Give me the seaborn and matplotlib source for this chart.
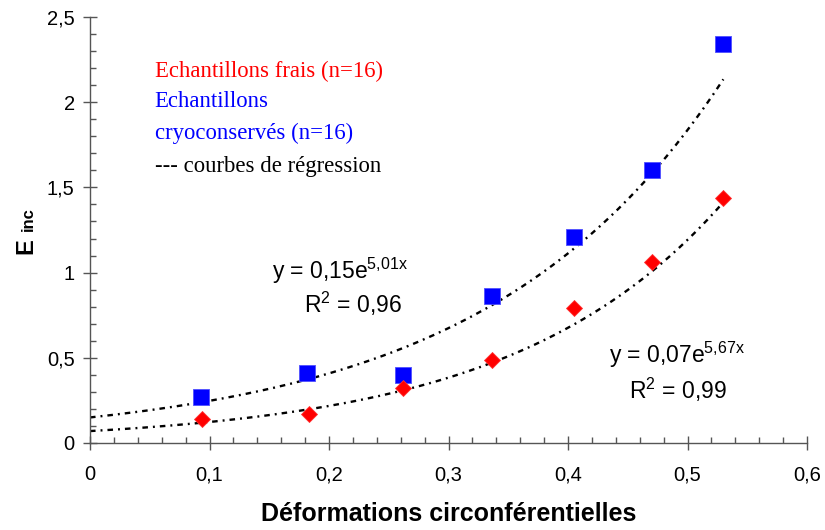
import numpy as np
import pandas as pd
import matplotlib
matplotlib.use("Agg")
import matplotlib.pyplot as plt
import seaborn as sns
from matplotlib.ticker import MultipleLocator, FixedLocator, FixedFormatter

# ---- data ----
x_cryo = [0.093, 0.182, 0.262, 0.336, 0.405, 0.470, 0.530]
y_cryo = [0.27, 0.41, 0.40, 0.86, 1.21, 1.60, 2.34]
x_frais = [0.094, 0.183, 0.262, 0.336, 0.405, 0.470, 0.530]
y_frais = [0.14, 0.17, 0.32, 0.49, 0.79, 1.06, 1.44]

# exponential regression coefficients (y = a * exp(b x)) as printed on the chart
fit_cryo = (0.15, 5.01)
fit_frais = (0.07, 5.67)
fit_xmax = 0.53

xticks = [0, 0.1, 0.2, 0.3, 0.4, 0.5, 0.6]
xtick_labels = ["0", "0,1", "0,2", "0,3", "0,4", "0,5", "0,6"]
yticks = [0, 0.5, 1, 1.5, 2, 2.5]
ytick_labels = ["0", "0,5", "1", "1,5", "2", "2,5"]

x_label = "Déformations circonférentielles"
y_label_main = "E"
y_label_sub = "inc"
legend_lines = [("Echantillons frais (n=16)", "#ff0000"),
                ("Echantillons", "#0000ff"),
                ("cryoconservés (n=16)", "#0000ff"),
                ("--- courbes de régression", "#000000")]
eq_cryo = [r"y = 0,15e$^{5{,}01x}$", r"R$^{2}$ = 0,96"]
eq_frais = [r"y = 0,07e$^{5{,}67x}$", r"R$^{2}$ = 0,99"]

# ---- style ----
sns.set_style("ticks")
plt.rcParams["font.family"] = ["Liberation Sans", "DejaVu Sans"]
plt.rcParams["mathtext.fontset"] = "custom"
plt.rcParams["mathtext.rm"] = "Liberation Sans"
plt.rcParams["mathtext.it"] = "Liberation Sans"
plt.rcParams["mathtext.bf"] = "Liberation Sans:bold"
plt.rcParams["text.color"] = "black"
plt.rcParams["lines.scale_dashes"] = False

fig = plt.figure(figsize=(8.25, 5.30), dpi=100)
ax = fig.add_axes([90 / 825, 1 - 443 / 530, (807 - 90) / 825, (443 - 17) / 530])

# regression curves
xc = np.linspace(0, fit_xmax, 200)
df_fit = pd.DataFrame({
    "x": np.concatenate([xc, xc]),
    "y": np.concatenate([fit_cryo[0] * np.exp(fit_cryo[1] * xc),
                         fit_frais[0] * np.exp(fit_frais[1] * xc)]),
    "serie": ["cryo"] * len(xc) + ["frais"] * len(xc),
})
for name in ["cryo", "frais"]:
    sns.lineplot(data=df_fit[df_fit.serie == name], x="x", y="y", ax=ax,
                 color="black", linewidth=1.7,
                 linestyle=(0, (4.0, 3.6, 1.4, 3.6)), legend=False, zorder=2)

df_c = pd.DataFrame({"x": x_cryo, "y": y_cryo})
df_f = pd.DataFrame({"x": x_frais, "y": y_frais})
sns.scatterplot(data=df_c, x="x", y="y", ax=ax, marker="s", s=118,
                color="#0000ff", edgecolor="#5050ff", linewidth=0.6, zorder=3)
sns.scatterplot(data=df_f, x="x", y="y", ax=ax, marker="D", s=66,
                color="#ff0000", edgecolor="#ff3030", linewidth=0.6, zorder=3)

ax.set_xlim(0, 0.6)
ax.set_ylim(0, 2.5)
ax.xaxis.set_major_locator(FixedLocator(xticks))
ax.xaxis.set_major_formatter(FixedFormatter(xtick_labels))
ax.yaxis.set_major_locator(FixedLocator(yticks))
ax.yaxis.set_major_formatter(FixedFormatter(ytick_labels))
ax.xaxis.set_minor_locator(MultipleLocator(0.02))
ax.yaxis.set_minor_locator(MultipleLocator(0.1))

spine_col = "#555555"
for s in ["top", "right"]:
    ax.spines[s].set_visible(False)
for s in ["left", "bottom"]:
    ax.spines[s].set_color(spine_col)
    ax.spines[s].set_linewidth(1.0)
ax.tick_params(which="major", direction="inout", length=10, width=1.0,
               color=spine_col, labelsize=14.5, labelcolor="black")
ax.tick_params(axis="x", which="major", pad=11)
ax.tick_params(axis="y", which="major", pad=6)
ax.tick_params(which="minor", direction="in", length=4.5, width=1.0, color=spine_col)

ax.set_xlabel(x_label, fontsize=18, fontweight="bold", labelpad=13, color="black")
ax.set_ylabel("")

# y axis label: bold "E" followed by smaller bold "inc" on same baseline
fig.text(32 / 825, 1 - 254 / 530, y_label_main, fontsize=17, fontweight="bold",
         rotation=90, rotation_mode="anchor", ha="left", va="baseline")
fig.text(33 / 825, 1 - 231 / 530, y_label_sub, fontsize=12, fontweight="bold",
         rotation=90, rotation_mode="anchor", ha="left", va="baseline")

# legend-like text
leg_y = [2.15, 1.97, 1.784, 1.59]
for (txt, col), yy in zip(legend_lines, leg_y):
    ax.text(0.054, yy, txt, color=col, fontsize=16.4,
            family=["Liberation Serif", "DejaVu Serif"], va="baseline", ha="left")

# equations
ax.text(0.152, 0.962, eq_cryo[0], fontsize=16.5, va="baseline", ha="left")
ax.text(0.179, 0.763, eq_cryo[1], fontsize=16.5, va="baseline", ha="left")
ax.text(0.434, 0.47, eq_frais[0], fontsize=16.5, va="baseline", ha="left")
ax.text(0.451, 0.258, eq_frais[1], fontsize=16.5, va="baseline", ha="left")

fig.savefig("out.png", dpi=100)
